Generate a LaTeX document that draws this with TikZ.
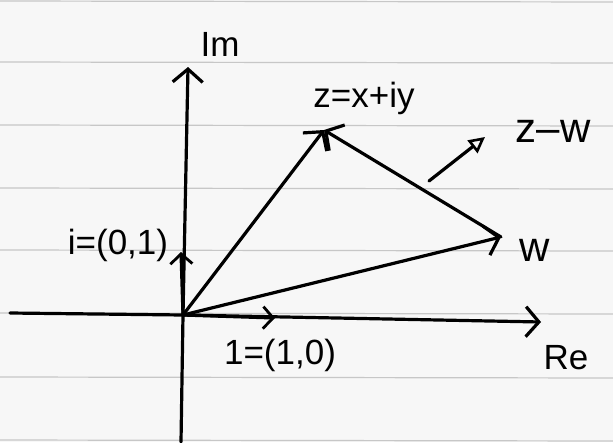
\documentclass[tikz,border=0pt]{standalone}
\usepackage{fontspec}
\setmainfont{Liberation Sans}
\usetikzlibrary{arrows.meta}
\begin{document}
\begin{tikzpicture}[x=1pt,y=-1pt,
  paperline/.style={draw=black!22,line width=1.2pt},
  ink/.style={draw=black,line width=3.2pt,line cap=round,line join=round},
  vec/.style={ink,-{Straight Barb[length=13pt,width=30pt,line width=3.2pt]}},
  smallvec/.style={ink,-{Straight Barb[length=10pt,width=22pt,line width=2.8pt]}},
  openvec/.style={ink,-{Triangle[open,length=16pt,width=16pt,line width=2.6pt]}},
  lbl/.style={font=\fontsize{35}{35}\selectfont,inner sep=0pt},
  biglbl/.style={font=\fontsize{42}{42}\selectfont,inner sep=0pt}]
\useasboundingbox (0,0) rectangle (613,442);
\fill[black!3] (0,0) rectangle (613,442);
\foreach \yy in {1,62,125,188,250,313,377,440}
  \draw[paperline] (0,\yy) -- (613,\yy+1);
% axes
\coordinate (O) at (183,315);
\coordinate (ImB) at (181,442);
\coordinate (ImT) at (188,67);
\coordinate (ReL) at (10,313);
\coordinate (ReR) at (541,322);
\draw[ink] (ReL) -- (O);
\draw[vec] (O) -- (ReR);
\draw[ink] (ImB) -- (O);
\draw[vec] (O) -- (ImT);
% unit vectors
\coordinate (I1) at (181,252);
\coordinate (R1) at (275,318);
\draw[smallvec] (O) -- (I1);
\draw[smallvec] (O) -- (R1);
% points
\coordinate (Z) at (324,130);
\coordinate (W) at (501,237);
\draw[vec] (O) -- (Z);
\draw[vec] (O) -- (W);
\draw[vec] (W) -- (Z);
% z-w direction
\coordinate (DA) at (429,181);
\coordinate (DB) at (485,137);
\draw[openvec] (DA) -- (DB);
% labels
\node[lbl] (lIm) at (220,44) {Im};
\node[lbl] (lRe) at (566,358) {Re};
\node[lbl] (lZ) at (364,98) {z=x+iy};
\node[biglbl] (lW) at (535,250) {w};
\node[biglbl] (lZW) at (553,131) {z–w};
\node[lbl] (lI) at (118,245) {i=(0,1)};
\node[lbl] (l1) at (280,355) {1=(1,0)};
\end{tikzpicture}
\end{document}
